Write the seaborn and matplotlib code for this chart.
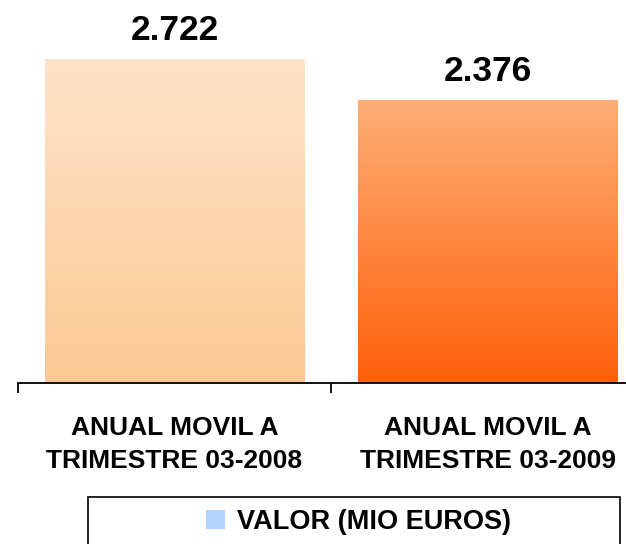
import numpy as np
import pandas as pd
import matplotlib
matplotlib.use("Agg")
import matplotlib.pyplot as plt
import matplotlib.colors as mcolors
from matplotlib.patches import Rectangle, Patch
import seaborn as sns

categories = ["ANUAL MOVIL A\nTRIMESTRE 03-2008", "ANUAL MOVIL A\nTRIMESTRE 03-2009"]
values = [2.722, 2.376]
value_labels = ["2.722", "2.376"]
series_name = "VALOR (MIO EUROS)"

# gradient colours (top, bottom) per bar
grad_colors = [("#fde3c8", "#fcc994"), ("#fdae76", "#ff600a")]

sns.set_theme(style="white")
plt.rcParams["font.family"] = ["Liberation Sans", "DejaVu Sans"]
plt.rcParams["font.weight"] = "bold"
plt.rcParams["text.color"] = "black"

W, H = 626, 544
fig = plt.figure(figsize=(W / 100, H / 100), dpi=100)
ax_left, ax_right = 18, 644
ax_axis_y = 383
ax = fig.add_axes([ax_left / W, (H - ax_axis_y) / H, (ax_right - ax_left) / W, ax_axis_y / H])

df = pd.DataFrame({"cat": categories, "val": values})
sns.barplot(data=df, x="cat", y="val", ax=ax, width=0.83, color="#ffffff",
            edgecolor="none", linewidth=0, saturation=1)

ax.set_xlim(-0.5, 1.5)
ax.set_ylim(0, values[0] * ax_axis_y / (ax_axis_y - 59))

# gradient fill clipped to each bar
for patch, (ctop, cbot) in zip(ax.patches, grad_colors):
    x0, y0 = patch.get_x(), patch.get_y()
    w, h = patch.get_width(), patch.get_height()
    cmap = mcolors.LinearSegmentedColormap.from_list("g", [cbot, ctop])
    grad = np.linspace(0, 1, 256).reshape(-1, 1)
    im = ax.imshow(grad, cmap=cmap, aspect="auto", origin="lower",
                   extent=[x0, x0 + w, y0, y0 + h], zorder=patch.get_zorder())
    im.set_clip_path(patch)

container = ax.containers[0]
ax.bar_label(container, labels=value_labels, padding=8.5, fontsize=25.5,
             fontweight="bold", color="black", clip_on=False)

for s in ["left", "right", "top"]:
    ax.spines[s].set_visible(False)
ax.spines["bottom"].set_color("black")
ax.spines["bottom"].set_linewidth(1.3)
ax.set_yticks([])
ax.set_xlabel("")
ax.set_ylabel("")
ax.set_xticks([0, 1])
ax.set_xticklabels(categories, fontsize=19, fontweight="bold", linespacing=1.45)
ax.set_xticks([-0.5, 0.5, 1.5], minor=True)
ax.tick_params(axis="x", which="major", length=0, pad=24, colors="black")
ax.tick_params(axis="x", which="minor", bottom=True, length=7.5, width=1.3,
               color="black", direction="out")

# legend frame (extends beyond bottom edge as in the reference)
frame = Rectangle((88 / W, -0.05), (620 - 88) / W, (H - 497) / H + 0.05,
                  transform=fig.transFigure, fill=False, edgecolor="black",
                  linewidth=1.2)
fig.add_artist(frame)
handle = Patch(facecolor="#b0d3ff", edgecolor="none")
fig.legend([handle], [series_name], loc="center", bbox_to_anchor=(358.5 / W, (H - 522) / H),
           frameon=False, handlelength=0.7, handleheight=0.7, labelcolor="black",
           handletextpad=0.45, prop={"weight": "bold", "size": 19.5})

fig.savefig("out.png", dpi=100)
